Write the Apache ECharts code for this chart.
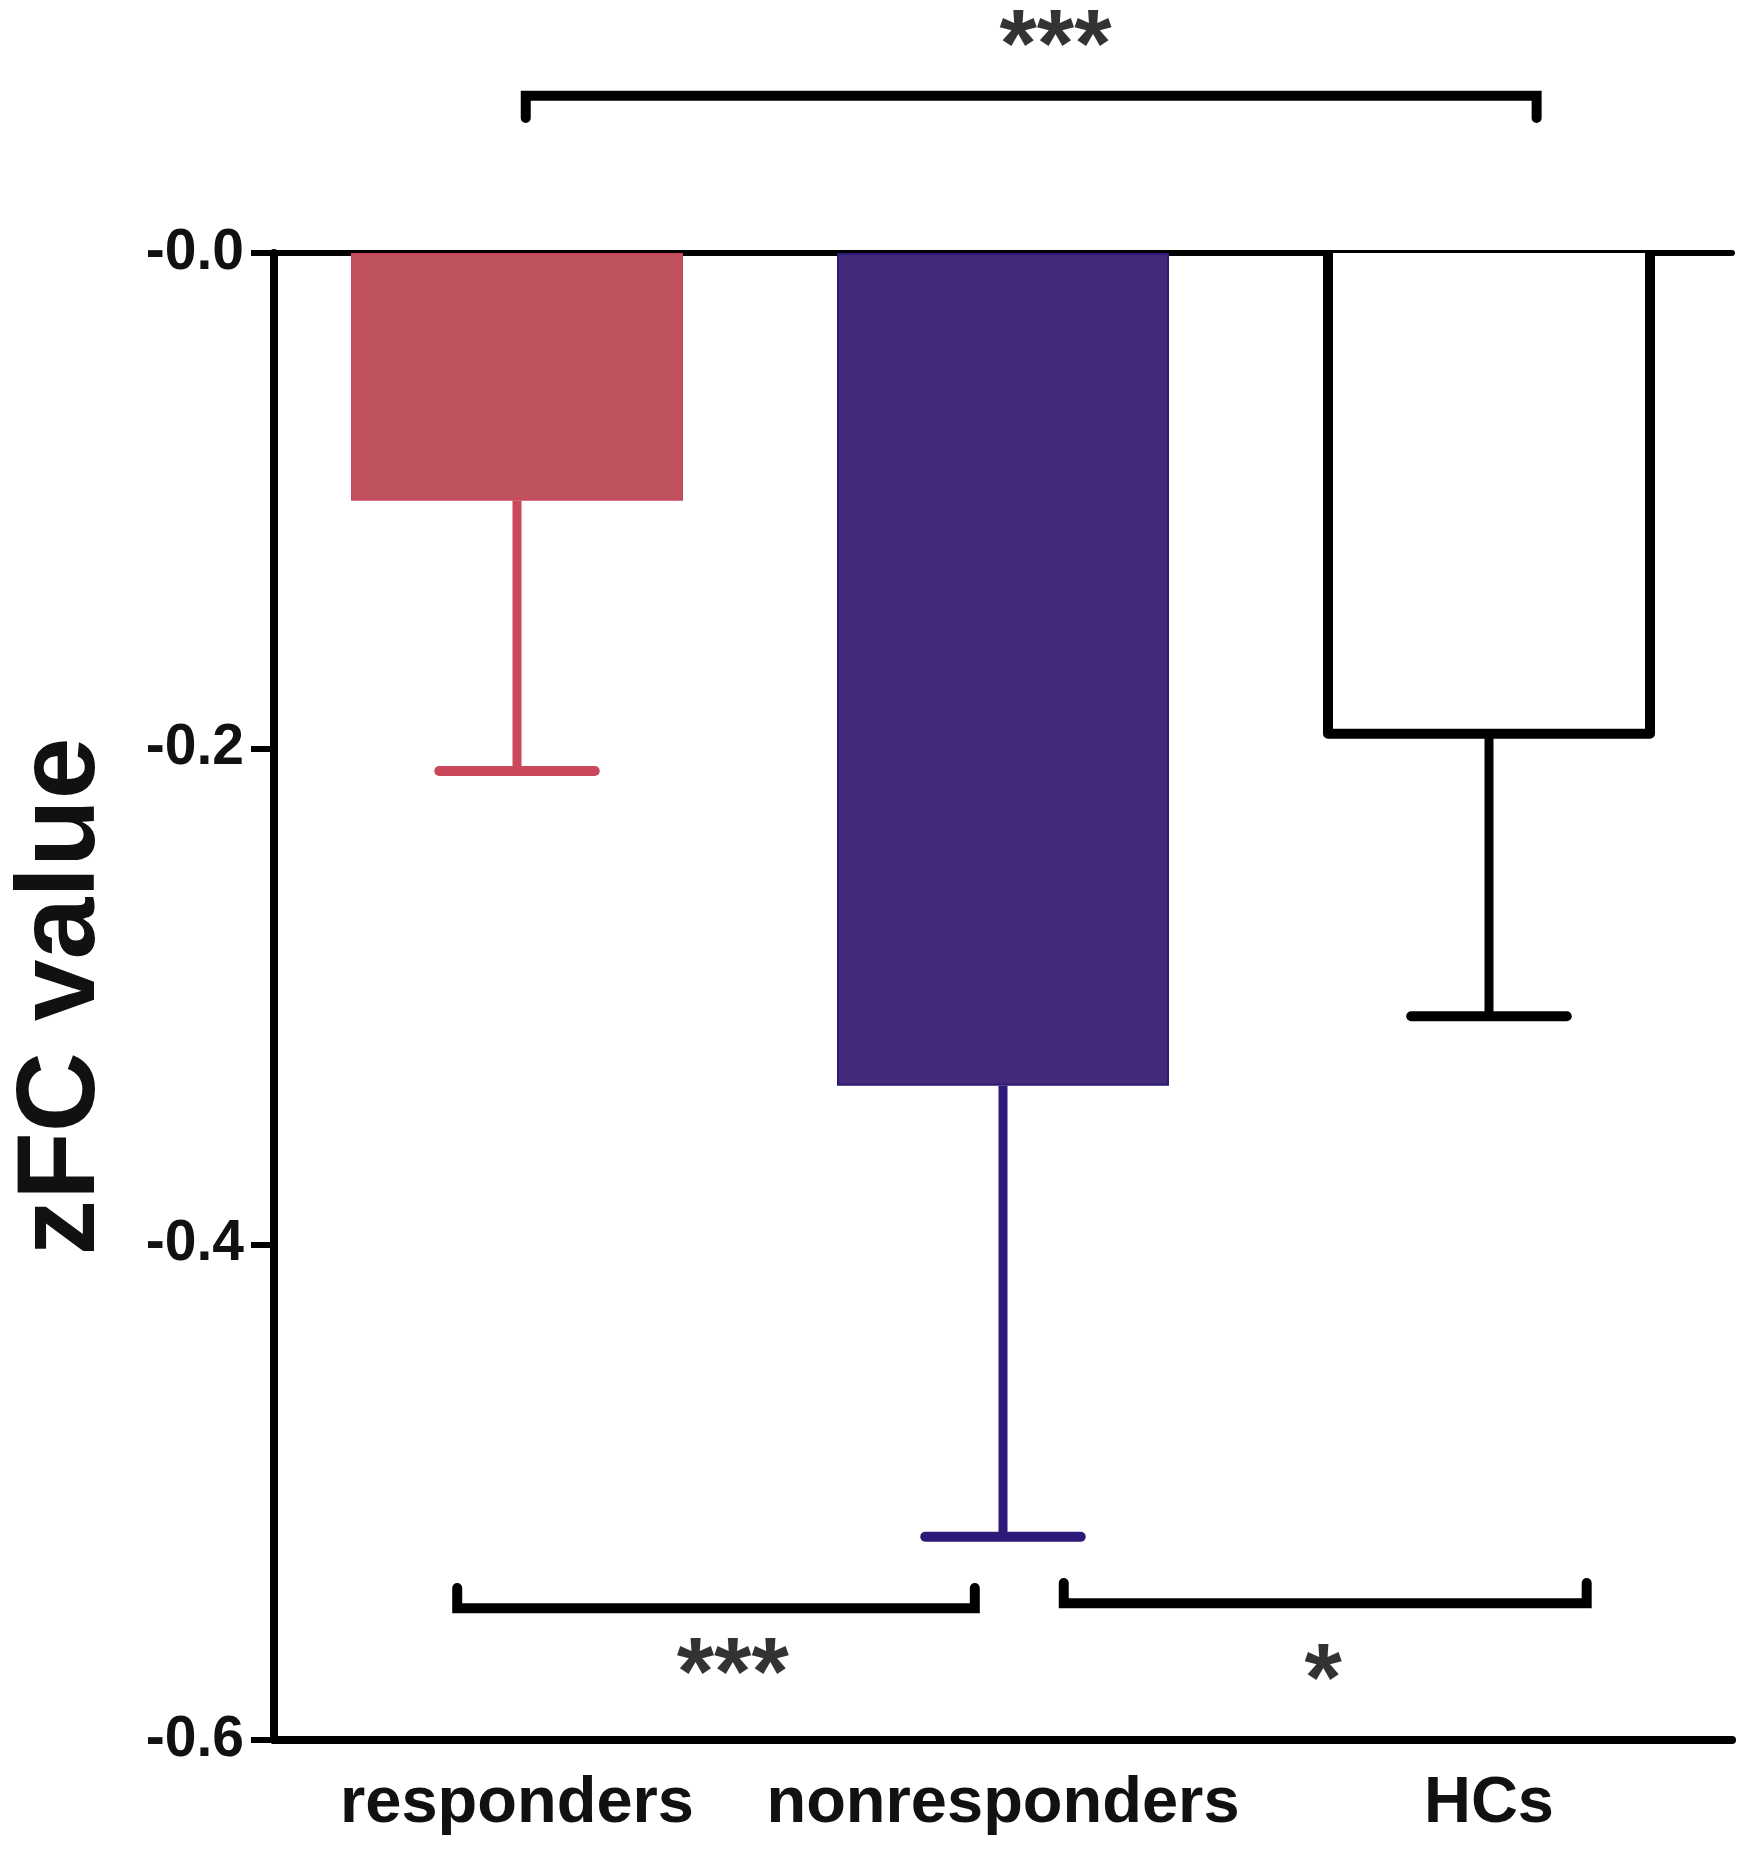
<!DOCTYPE html>
<html>
<head>
<meta charset="utf-8">
<title>zFC value</title>
<script src="https://cdn.jsdelivr.net/npm/echarts@6.0.0/dist/echarts.min.js"></script>
<style>
    html, body { margin: 0; padding: 0; background: #fff; }
    #bar_chart { width: 1750px; height: 1855px; }
</style>
</head>
<body>
<div id="bar_chart"></div>
<script>
    // groups and values
    const group_names = ['responders', 'nonresponders', 'HCs']
    const group_mean = [-0.100, -0.336, -0.194]
    const group_err_end = [-0.209, -0.518, -0.308]
    const y_ticks = [-0.6, -0.4, -0.2, 0]

    // significance brackets, x in category units (0 = first group), y in zFC units
    const bracket_top = [[0.018, 0.0545], [0.018, 0.0634], [2.098, 0.0634], [2.098, 0.0545]]
    const bracket_left = [[-0.123, -0.5387], [-0.123, -0.5468], [0.942, -0.5468], [0.942, -0.5387]]
    const bracket_right = [[1.125, -0.5367], [1.125, -0.5448], [2.201, -0.5448], [2.201, -0.5367]]
    const star_x = [1.108, 0.444, 1.659]
    const star_y = [0.0902, -0.5666, -0.569]
    const star_text = ['***', '***', '*']

    const fill_colors = ['#c0515e', '#42297a', '#ffffff']
    const line_colors = ['#c9485b', '#2d1a78', '#000000']
    const outlined = [false, false, true]
    const bar_width = 332
    const font_name = '"Liberation Sans", Arial, Helvetica, sans-serif'

    let bar_chart = echarts.init(document.getElementById('bar_chart'))

    function bracket_series(points) {
        return {
            type: 'line',
            xAxisIndex: 2,
            data: points,
            symbol: 'none',
            clip: false,
            silent: true,
            lineStyle: {color: '#000', width: 10, cap: 'round', join: 'miter'},
            z: 5
        }
    }

    let bar_chart_option = {
        animation: false,
        backgroundColor: '#fff',
        grid: {left: 271, top: 253, width: 1461, bottom: 115, containLabel: false},
        xAxis: [
            {
                type: 'category',
                data: group_names,
                position: 'bottom',
                axisLine: {onZero: false, lineStyle: {color: '#000', width: 8}},
                axisTick: {alignWithLabel: true, length: 27, lineStyle: {color: '#000', width: 6}},
                axisLabel: {
                    interval: 0,
                    margin: 32,
                    fontFamily: font_name,
                    fontSize: 65,
                    fontWeight: 'bold',
                    color: '#111'
                }
            },
            {
                // zero line along the top
                type: 'category',
                data: group_names,
                position: 'top',
                axisLine: {onZero: false, lineStyle: {color: '#000', width: 6}},
                axisTick: {show: false},
                axisLabel: {show: false}
            },
            {
                type: 'value',
                min: -0.5,
                max: 2.5,
                show: false
            }
        ],
        yAxis: {
            type: 'value',
            min: y_ticks[0],
            max: y_ticks[y_ticks.length - 1],
            interval: 0.2,
            name: 'zFC value',
            nameLocation: 'middle',
            nameGap: 155,
            nameTextStyle: {
                fontFamily: font_name,
                fontSize: 111,
                fontWeight: 'bold',
                color: '#111'
            },
            splitLine: {show: false},
            axisLine: {show: true, onZero: false, lineStyle: {color: '#000', width: 8}},
            axisTick: {show: true, length: 23, lineStyle: {color: '#000', width: 6}},
            axisLabel: {
                margin: 30,
                fontFamily: font_name,
                fontSize: 57,
                fontWeight: 'bold',
                color: '#111',
                formatter: function (value) {
                    return value === 0 ? '-0.0' : value.toFixed(1)
                }
            }
        },
        series: [
            {
                type: 'bar',
                xAxisIndex: 0,
                barWidth: bar_width,
                data: group_mean.map((val, index) => {
                    return {
                        value: val,
                        itemStyle: {
                            color: fill_colors[index],
                            borderColor: line_colors[index],
                            borderWidth: outlined[index] ? 0 : 2
                        }
                    }
                }),
                z: 2
            },
            {
                // error bars (one-sided, downwards) and outline of the open bar
                type: 'custom',
                xAxisIndex: 0,
                data: group_mean.map((val, index) => [index, val, group_err_end[index]]),
                renderItem: function (params, api) {
                    const idx = api.value(0)
                    const zero = api.coord([idx, 0])
                    const top = api.coord([idx, api.value(1)])
                    const bottom = api.coord([idx, api.value(2)])
                    const half_cap = api.size([1, 0])[0] * 0.16
                    const color = line_colors[params.dataIndex]
                    const children = []
                    if (outlined[params.dataIndex]) {
                        const hw = bar_width / 2 - 5
                        children.push({
                            type: 'polyline',
                            shape: {
                                points: [
                                    [top[0] - hw, zero[1]], [top[0] - hw, top[1]],
                                    [top[0] + hw, top[1]], [top[0] + hw, zero[1]]
                                ]
                            },
                            style: {stroke: color, lineWidth: 10, fill: null, lineJoin: 'round'}
                        })
                    }
                    children.push({
                        type: 'line',
                        shape: {x1: top[0], y1: top[1], x2: bottom[0], y2: bottom[1]},
                        style: {stroke: color, lineWidth: 9}
                    })
                    children.push({
                        type: 'line',
                        shape: {x1: bottom[0] - half_cap, y1: bottom[1], x2: bottom[0] + half_cap, y2: bottom[1]},
                        style: {stroke: color, lineWidth: 10, lineCap: 'round'}
                    })
                    return {type: 'group', children: children}
                },
                z: 3
            },
            bracket_series(bracket_top),
            bracket_series(bracket_left),
            bracket_series(bracket_right),
            {
                type: 'scatter',
                xAxisIndex: 2,
                symbolSize: 0,
                clip: false,
                silent: true,
                data: star_x.map((x, i) => ({value: [x, star_y[i]], text: star_text[i]})),
                label: {
                    show: true,
                    position: 'inside',
                    offset: [0, 20],
                    formatter: function (params) {
                        return params.data.text
                    },
                    fontFamily: font_name,
                    fontSize: 96,
                    fontWeight: 'bold',
                    color: '#000'
                },
                z: 6
            }
        ]
    }

    bar_chart.setOption(bar_chart_option)
</script>
</body>
</html>
